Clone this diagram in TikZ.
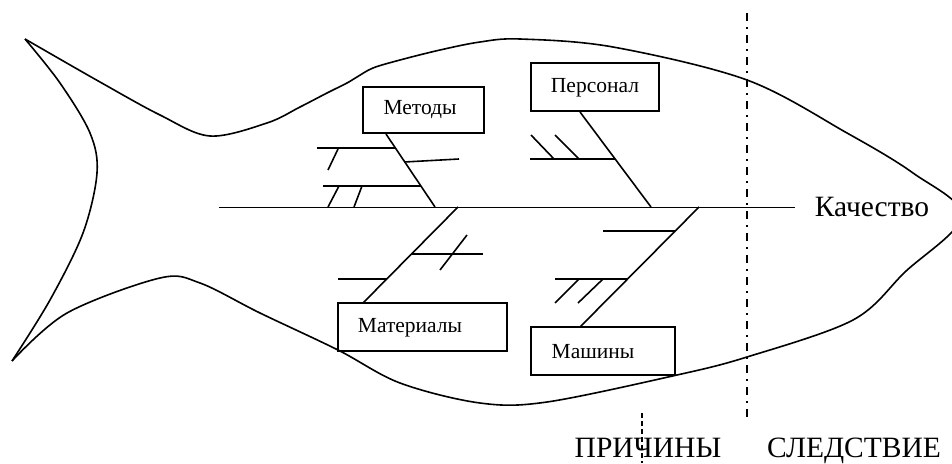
\documentclass[tikz,border=0pt]{standalone}
\usepackage{fontspec}
\setmainfont{Liberation Serif}
\tikzset{
  outline/.style={line width=1.6pt, line join=round},
  spineline/.style={line width=0.9pt},
  bone/.style={line width=1.6pt},
  causebox/.style={draw, line width=1.6pt, inner sep=0pt},
  boxtext/.style={font=\fontsize{21.5}{24}\selectfont, inner sep=0pt},
  bigtext/.style={font=\fontsize{29.5}{34}\selectfont, inner sep=0pt},
  divider/.style={line width=1.5pt, dash pattern=on 8pt off 6pt on 1.5pt off 6.5pt},
  splitline/.style={line width=1.2pt, dash pattern=on 5pt off 3pt}
}
\begin{document}
\begin{tikzpicture}[x=1pt,y=-1pt]
\useasboundingbox (0,0) rectangle (952,463);

% fish body and tail
\begin{scope}
  \clip (0,0) rectangle (952,463);
  \draw[outline] plot[smooth, tension=0.55] coordinates {
    (25,39) (100,82) (160,115) (210,136) (267,123) (300,107) (327,93)
    (347,83) (357,77) (373,68) (400,60) (440,50) (480,42) (520,39)
    (613,47) (747,80) (847,133) (913,173)
    (962,216) (905,272) (853,320) (747,357) (677,375) (547,402)
    (480,403) (400,383) (338,350) (260,313) (200,283) (160,278)
    (67,313) (12,361)};
  \draw[outline] plot[smooth, tension=0.55] coordinates {
    (25,39) (60,83) (90,133) (97,173) (83,233) (50,300) (12,361)};
\end{scope}

% main spine
\coordinate (spineL) at (219,207);
\coordinate (spineR) at (795,207);
\draw[spineline] (spineL) -- (spineR);

% cause boxes
\node[causebox, minimum width=121pt, minimum height=46pt] (metody) at (423.5,110) {};
\node[boxtext] (metodyT) at (420,110) {Методы};
\node[causebox, minimum width=128pt, minimum height=48pt] (personal) at (595,87) {};
\node[boxtext] (personalT) at (595,88) {Персонал};
\node[causebox, minimum width=169pt, minimum height=48pt] (materialy) at (422.5,327) {};
\node[boxtext] (materialyT) at (410,328) {Материалы};
\node[causebox, minimum width=144pt, minimum height=48pt] (mashiny) at (603,351) {};
\node[boxtext] (mashinyT) at (593,352) {Машины};

% bone joints
\coordinate (m0) at (386,134);   \coordinate (m1) at (435,207);
\coordinate (p0) at (580,112);   \coordinate (p1) at (651,207);
\coordinate (t0) at (363,303);   \coordinate (t1) at (458,207);
\coordinate (s0) at (580,327);   \coordinate (s1) at (699,207);

\draw[bone] (m0) -- (m1);
\draw[bone] (p0) -- (p1);
\draw[bone] (t0) -- (t1);
\draw[bone] (s0) -- (s1);

% methods branch
\coordinate (ma) at (394.8,148); \coordinate (mb) at (404.4,162); \coordinate (mc) at (420.7,186);
\coordinate (ma1) at (317,148);  \coordinate (mb1) at (459,159); \coordinate (mc1) at (323,186);
\draw[bone] (ma1) -- (ma);
\draw[bone] (mb) -- (mb1);
\draw[bone] (mc1) -- (mc);
\coordinate (mx1) at (338,149); \coordinate (mx2) at (328,170);
\draw[bone] (mx1) -- (mx2);
\coordinate (my1) at (339,186); \coordinate (my2) at (328,207);
\draw[bone] (my1) -- (my2);
\coordinate (mz1) at (362,186); \coordinate (mz2) at (354,207);
\draw[bone] (mz1) -- (mz2);

% personnel branch
\coordinate (pa) at (615,159); \coordinate (pa1) at (530,159);
\draw[bone] (pa1) -- (pa);
\coordinate (px1) at (531,135); \coordinate (px2) at (554,159);
\draw[bone] (px1) -- (px2);
\coordinate (py1) at (555,135); \coordinate (py2) at (579,159);
\draw[bone] (py1) -- (py2);

% materials branch
\coordinate (ta) at (411.5,254); \coordinate (ta1) at (483,254);
\draw[bone] (ta) -- (ta1);
\coordinate (tb) at (386.8,279); \coordinate (tb1) at (338,279);
\draw[bone] (tb1) -- (tb);
\coordinate (tx1) at (467,235); \coordinate (tx2) at (440,270);
\draw[bone] (tx1) -- (tx2);

% machines branch
\coordinate (sa) at (675,231); \coordinate (sa1) at (603,231);
\draw[bone] (sa1) -- (sa);
\coordinate (sb) at (627,279); \coordinate (sb1) at (555,279);
\draw[bone] (sb1) -- (sb);
\coordinate (sx1) at (579,279); \coordinate (sx2) at (555,303);
\draw[bone] (sx1) -- (sx2);
\coordinate (sy1) at (603,279); \coordinate (sy2) at (578,303);
\draw[bone] (sy1) -- (sy2);

% effect label
\node[bigtext] (effect) at (872,207) {Качество};

% cause / effect division
\coordinate (divTop) at (747,13);
\coordinate (divBot) at (747,417);
\draw[divider] (divTop) -- (divBot);

\node[bigtext, anchor=base] (causes) at (648,457) {ПРИЧИНЫ};
\node[bigtext, anchor=base] (effects) at (854,457) {СЛЕДСТВИЕ};
\coordinate (splitTop) at (642,413);
\coordinate (splitBot) at (642,463);
\draw[splitline] (splitTop) -- (splitBot);
\end{tikzpicture}
\end{document}
